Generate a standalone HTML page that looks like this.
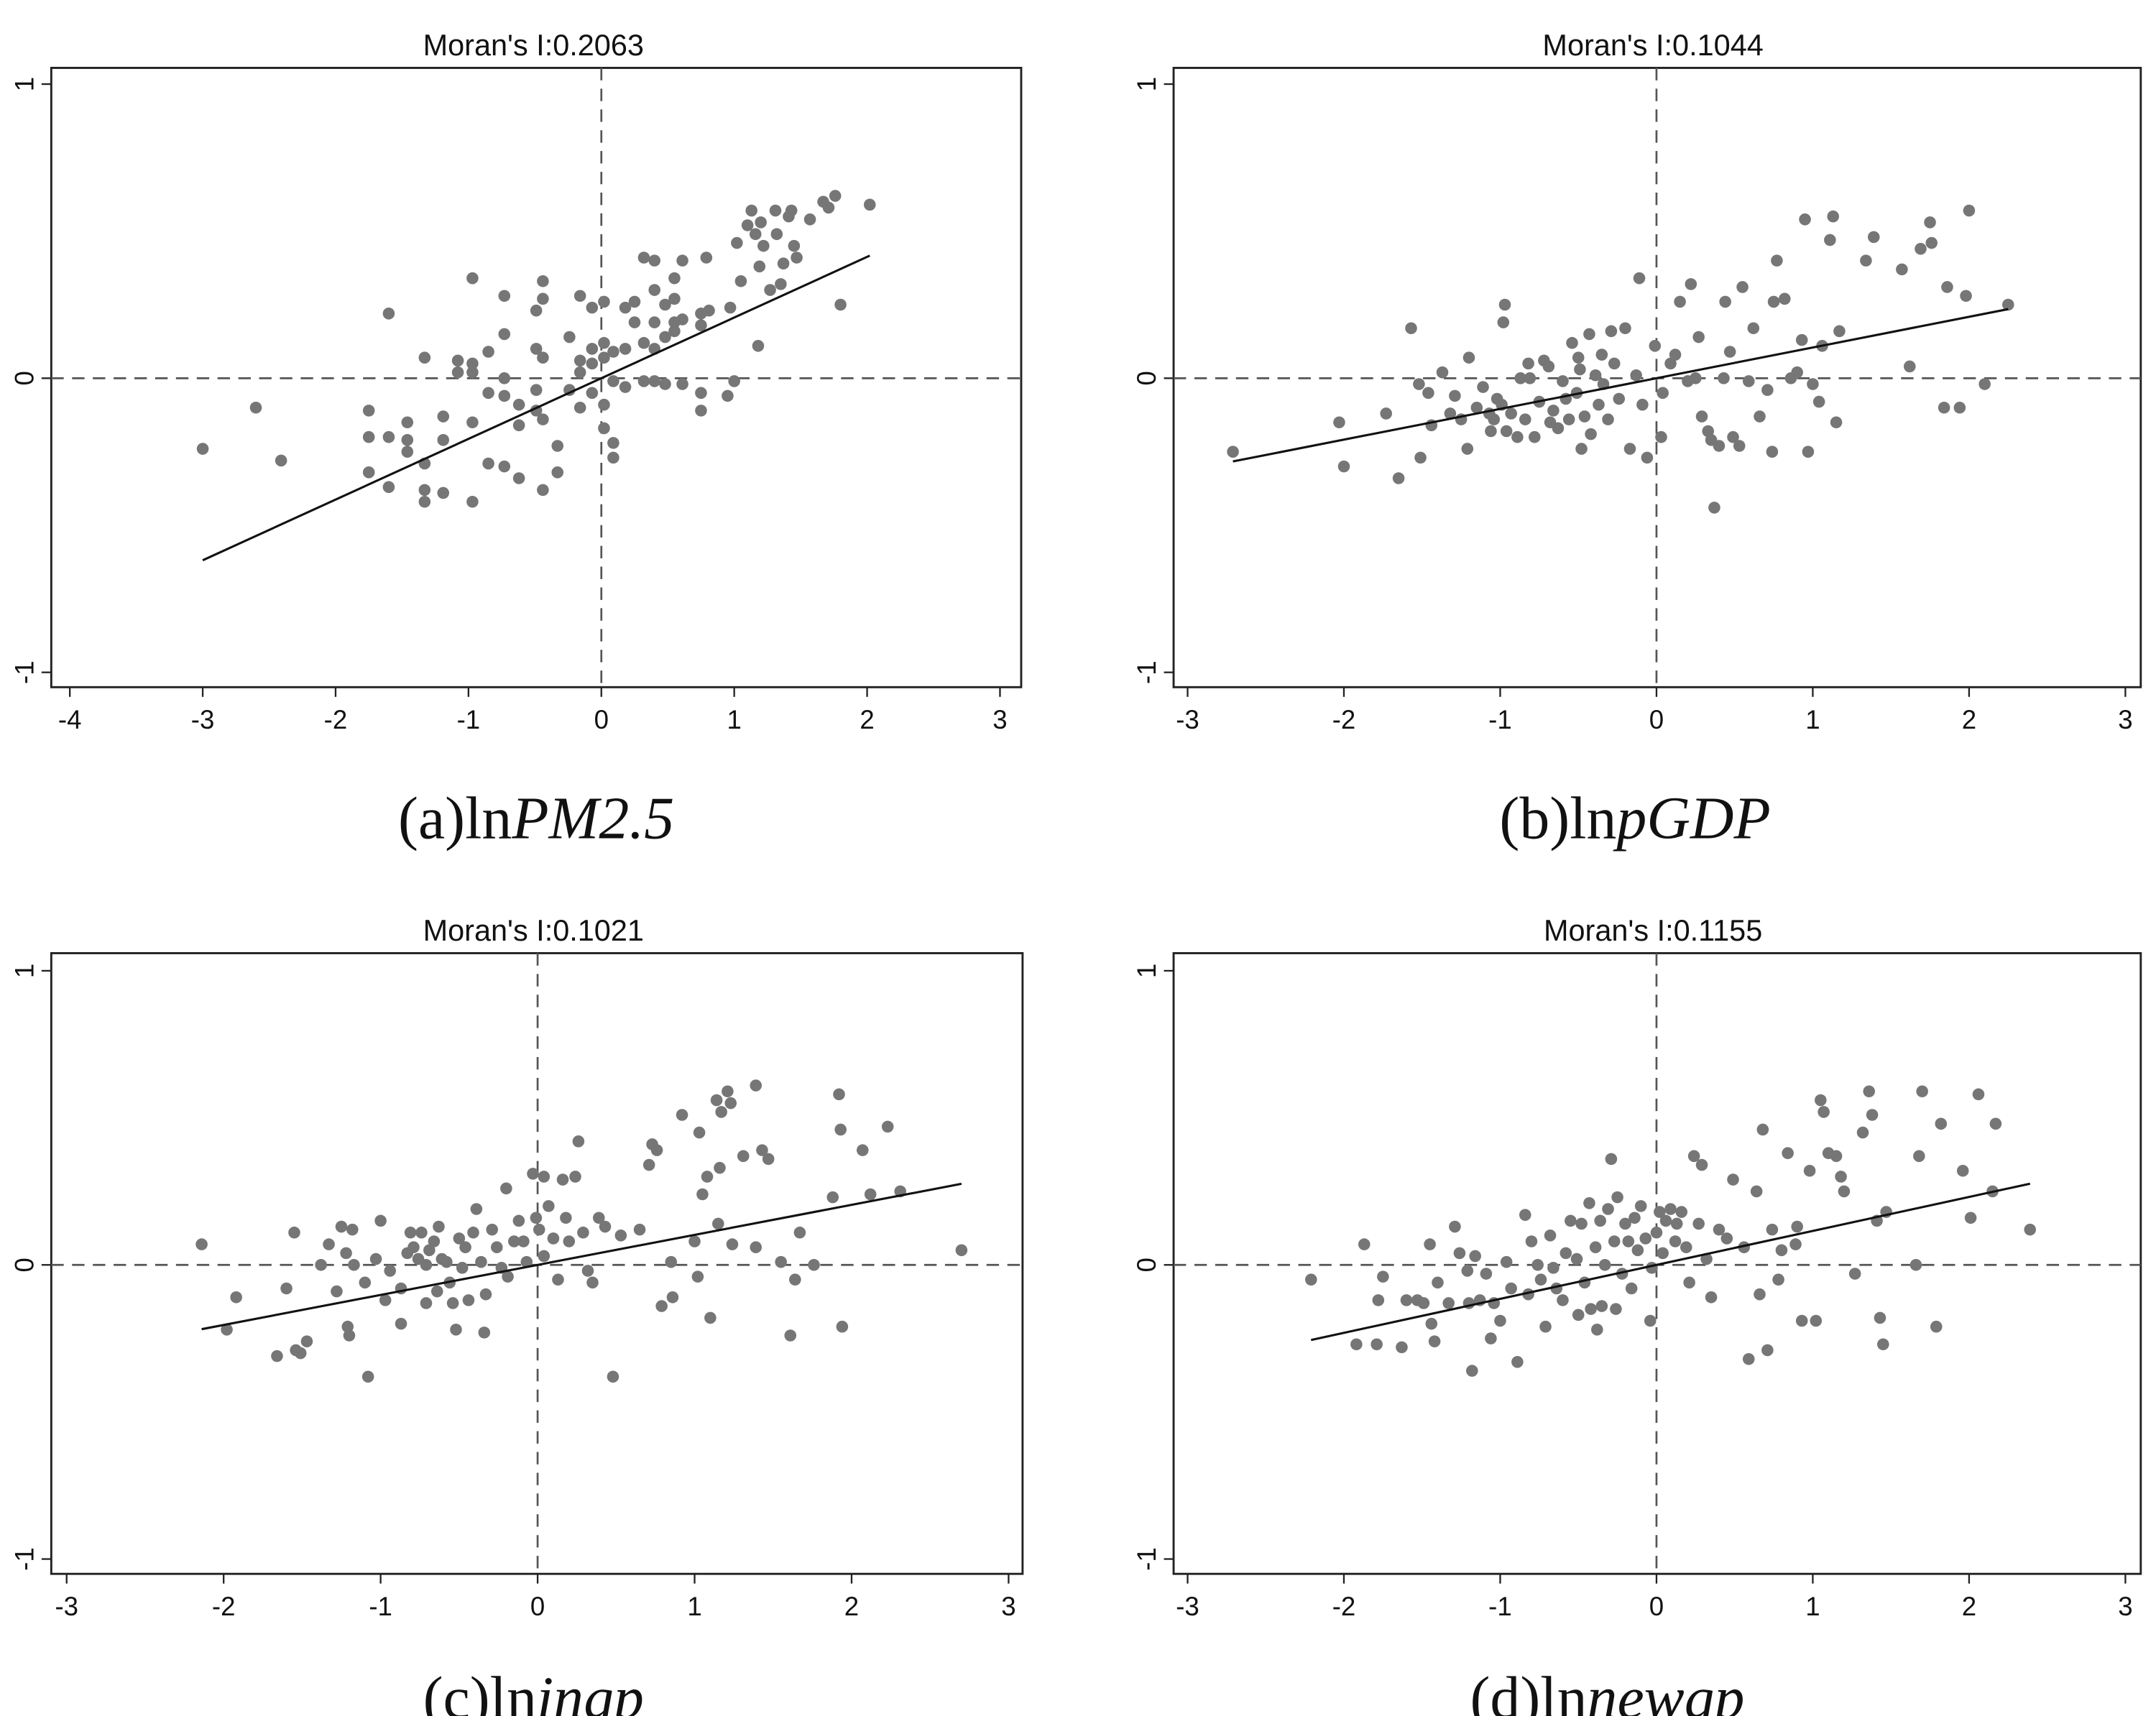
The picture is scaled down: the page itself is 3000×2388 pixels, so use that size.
<!DOCTYPE html>
<html><head><meta charset="utf-8"><style>
html,body{margin:0;padding:0;background:#fff}
svg{display:block}
</style></head><body>
<svg id="fig" width="3000" height="2388" viewBox="0 0 1556 1238.6" preserveAspectRatio="none" xmlns="http://www.w3.org/2000/svg"></svg>
<script>
// Panel data (x = standardized variable, y = spatial lag)
const aX=[-3.0,-2.6,-2.41,-1.6,-1.75,-1.75,-1.75,-1.6,-1.6,-1.46,-1.46,-1.46,-1.33,-1.33,-1.33,-1.33,-1.19,-1.19,-1.19,-1.08,-1.08,-0.97,-0.97,-0.97,-0.97,-0.97,-0.85,-0.85,-0.85,-0.73,-0.73,-0.73,-0.73,-0.73,-0.62,-0.62,-0.62,-0.49,-0.49,-0.49,-0.49,-0.44,-0.44,-0.44,-0.44,-0.44,-0.33,-0.33,-0.24,-0.24,-0.16,-0.16,-0.16,-0.16,-0.07,-0.07,-0.07,-0.07,0.02,0.02,0.02,0.02,0.02,0.09,0.09,0.09,0.09,0.18,0.18,0.18,0.25,0.25,0.32,0.32,0.32,0.4,0.4,0.4,0.4,0.4,0.48,0.48,0.48,0.55,0.55,0.55,0.55,0.61,0.61,0.61,0.75,0.75,0.75,0.75,0.81,0.79,0.97,1.0,0.95,1.02,1.05,1.10,1.13,1.16,1.18,1.19,1.2,1.22,1.27,1.31,1.32,1.35,1.37,1.41,1.43,1.45,1.47,1.57,1.67,1.71,1.76,1.80,2.02];
const aY=[-0.24,-0.10,-0.28,0.22,-0.11,-0.20,-0.32,-0.2,-0.37,-0.15,-0.25,-0.21,0.07,-0.29,-0.38,-0.42,-0.13,-0.21,-0.39,0.06,0.02,0.34,0.05,0.02,-0.15,-0.42,0.09,-0.05,-0.29,0.28,0.15,0.0,-0.06,-0.30,-0.09,-0.16,-0.34,0.23,0.10,-0.04,-0.11,0.33,0.27,0.07,-0.14,-0.38,-0.23,-0.32,0.14,-0.04,0.28,0.06,0.02,-0.10,0.24,0.10,0.05,-0.05,0.26,0.12,0.07,-0.09,-0.17,0.09,-0.01,-0.22,-0.27,0.24,0.10,-0.03,0.26,0.19,0.41,0.12,-0.01,0.40,0.30,0.19,0.10,-0.01,0.25,0.14,-0.02,0.34,0.27,0.19,0.16,0.40,0.20,-0.02,0.22,0.18,-0.05,-0.11,0.23,0.41,0.24,-0.01,-0.06,0.46,0.33,0.52,0.57,0.49,0.11,0.38,0.53,0.45,0.30,0.57,0.49,0.32,0.39,0.55,0.57,0.45,0.41,0.54,0.60,0.58,0.62,0.25,0.59];
const bX=[-2.71,-2.03,-2.0,-1.73,-1.65,-1.57,-1.52,-1.51,-1.46,-1.44,-1.37,-1.32,-1.29,-1.25,-1.21,-1.2,-1.15,-1.11,-1.07,-1.06,-1.04,-1.02,-0.99,-0.98,-0.97,-0.96,-0.93,-0.89,-0.87,-0.84,-0.82,-0.81,-0.78,-0.75,-0.72,-0.69,-0.68,-0.66,-0.63,-0.6,-0.58,-0.56,-0.54,-0.51,-0.5,-0.49,-0.48,-0.46,-0.43,-0.42,-0.39,-0.37,-0.35,-0.34,-0.31,-0.29,-0.27,-0.24,-0.2,-0.17,-0.13,-0.11,-0.09,-0.06,-0.01,0.03,0.04,0.09,0.12,0.15,0.2,0.22,0.25,0.27,0.29,0.33,0.35,0.37,0.40,0.43,0.44,0.47,0.49,0.53,0.55,0.59,0.62,0.66,0.71,0.74,0.75,0.77,0.82,0.86,0.9,0.93,0.95,0.97,1.0,1.04,1.06,1.11,1.13,1.15,1.17,1.34,1.39,1.57,1.62,1.69,1.75,1.76,1.84,1.86,1.94,1.98,2.0,2.1,2.25];
const bY=[-0.25,-0.15,-0.30,-0.12,-0.34,0.17,-0.02,-0.27,-0.05,-0.16,0.02,-0.12,-0.06,-0.14,-0.24,0.07,-0.10,-0.03,-0.12,-0.18,-0.14,-0.07,-0.09,0.19,0.25,-0.18,-0.12,-0.20,0.0,-0.14,0.05,0.0,-0.20,-0.08,0.06,0.04,-0.15,-0.11,-0.17,-0.01,-0.07,-0.14,0.12,-0.05,0.07,0.03,-0.24,-0.13,0.15,-0.19,0.01,-0.09,0.08,-0.02,-0.14,0.16,0.05,-0.07,0.17,-0.24,0.01,0.34,-0.09,-0.27,0.11,-0.20,-0.05,0.05,0.08,0.26,-0.01,0.32,0.0,0.14,-0.13,-0.18,-0.21,-0.44,-0.23,0.0,0.26,0.09,-0.20,-0.23,0.31,-0.01,0.17,-0.13,-0.04,-0.25,0.26,0.40,0.27,0.0,0.02,0.13,0.54,-0.25,-0.02,-0.08,0.11,0.47,0.55,-0.15,0.16,0.40,0.48,0.37,0.04,0.44,0.53,0.46,-0.10,0.31,-0.10,0.28,0.57,-0.02,0.25];
const cX=[-2.14,-1.98,-1.92,-1.66,-1.6,-1.55,-1.54,-1.51,-1.47,-1.38,-1.33,-1.28,-1.25,-1.22,-1.21,-1.2,-1.18,-1.17,-1.1,-1.08,-1.03,-1.0,-0.97,-0.94,-0.87,-0.87,-0.83,-0.81,-0.79,-0.76,-0.74,-0.71,-0.71,-0.69,-0.66,-0.64,-0.63,-0.61,-0.58,-0.56,-0.54,-0.52,-0.5,-0.48,-0.46,-0.44,-0.41,-0.39,-0.36,-0.34,-0.33,-0.29,-0.26,-0.23,-0.2,-0.19,-0.15,-0.12,-0.09,-0.07,-0.03,-0.01,0.01,0.04,0.04,0.07,0.1,0.13,0.16,0.18,0.2,0.24,0.26,0.29,0.32,0.35,0.39,0.43,0.48,0.53,0.65,0.71,0.73,0.76,0.79,0.85,0.86,0.92,1.0,1.02,1.03,1.05,1.08,1.10,1.14,1.15,1.16,1.17,1.21,1.23,1.24,1.31,1.39,1.39,1.43,1.47,1.55,1.61,1.64,1.67,1.76,1.88,1.92,1.93,1.94,2.07,2.12,2.23,2.31,2.70];
const cY=[0.07,-0.22,-0.11,-0.31,-0.08,0.11,-0.29,-0.30,-0.26,0.0,0.07,-0.09,0.13,0.04,-0.21,-0.24,0.12,0.0,-0.06,-0.38,0.02,0.15,-0.12,-0.02,-0.08,-0.20,0.04,0.11,0.06,0.02,0.11,-0.13,0.0,0.05,0.08,-0.09,0.13,0.02,0.01,-0.06,-0.13,-0.22,0.09,-0.01,0.06,-0.12,0.11,0.19,0.01,-0.23,-0.10,0.12,0.06,-0.01,0.26,-0.04,0.08,0.15,0.08,0.01,0.31,0.16,0.12,0.30,0.03,0.20,0.09,-0.05,0.29,0.16,0.08,0.30,0.42,0.11,-0.02,-0.06,0.16,0.13,-0.38,0.10,0.12,0.34,0.41,0.39,-0.14,0.01,-0.11,0.51,0.08,-0.04,0.45,0.24,0.30,-0.18,0.56,0.14,0.33,0.52,0.59,0.55,0.07,0.37,0.61,0.06,0.39,0.36,0.01,-0.24,-0.05,0.11,0.0,0.23,0.58,0.46,-0.21,0.39,0.24,0.47,0.25,0.05];
const dX=[-2.21,-1.92,-1.87,-1.79,-1.78,-1.75,-1.63,-1.60,-1.53,-1.49,-1.45,-1.44,-1.42,-1.40,-1.33,-1.29,-1.26,-1.21,-1.20,-1.18,-1.16,-1.13,-1.09,-1.06,-1.04,-1.0,-0.96,-0.93,-0.89,-0.84,-0.82,-0.80,-0.76,-0.74,-0.71,-0.68,-0.66,-0.64,-0.6,-0.58,-0.55,-0.51,-0.50,-0.48,-0.46,-0.43,-0.42,-0.39,-0.38,-0.36,-0.35,-0.33,-0.31,-0.29,-0.27,-0.26,-0.25,-0.22,-0.20,-0.18,-0.16,-0.14,-0.12,-0.10,-0.07,-0.04,-0.03,0.0,0.02,0.04,0.06,0.09,0.12,0.13,0.16,0.19,0.21,0.24,0.27,0.29,0.32,0.35,0.40,0.45,0.49,0.56,0.59,0.64,0.66,0.68,0.71,0.74,0.78,0.80,0.84,0.89,0.90,0.93,0.98,1.02,1.05,1.07,1.10,1.15,1.18,1.20,1.27,1.32,1.36,1.38,1.41,1.43,1.45,1.47,1.66,1.68,1.70,1.79,1.82,1.96,2.01,2.06,2.15,2.17,2.39];
const dY=[-0.05,-0.27,0.07,-0.27,-0.12,-0.04,-0.28,-0.12,-0.12,-0.13,0.07,-0.20,-0.26,-0.06,-0.13,0.13,0.04,-0.02,-0.13,-0.36,0.03,-0.12,-0.03,-0.25,-0.13,-0.19,0.01,-0.08,-0.33,0.17,-0.10,0.08,0.0,-0.05,-0.21,0.10,-0.01,-0.08,-0.12,0.04,0.15,0.02,-0.17,0.14,-0.06,0.21,-0.15,0.06,-0.22,0.15,-0.14,0.0,0.19,0.36,0.08,-0.15,0.23,-0.03,0.14,0.08,-0.08,0.16,0.05,0.20,0.09,-0.19,-0.01,0.11,0.18,0.04,0.15,0.19,0.08,0.14,0.18,0.06,-0.06,0.37,0.14,0.34,0.02,-0.11,0.12,0.09,0.29,0.06,-0.32,0.25,-0.10,0.46,-0.29,0.12,-0.05,0.05,0.38,0.07,0.13,-0.19,0.32,-0.19,0.56,0.52,0.38,0.37,0.30,0.25,-0.03,0.45,0.59,0.51,0.15,-0.18,-0.27,0.18,0.0,0.37,0.59,-0.21,0.48,0.32,0.16,0.58,0.25,0.48,0.12];
const titles=["Moran's I:0.2063","Moran's I:0.1044","Moran's I:0.1021","Moran's I:0.1155"];
const slopes=[0.2063,0.1044,0.1021,0.1155];
const xTicksA=[-4,-3,-2,-1,0,1,2,3];
const xTicksB=[-3,-2,-1,0,1,2,3];
const yTicks=[-1,0,1];

const NS="http://www.w3.org/2000/svg";
const svg=document.getElementById('fig');
function mk(tag,attrs,parent){const e=document.createElementNS(NS,tag);for(const k in attrs)e.setAttribute(k,attrs[k]);(parent||svg).appendChild(e);return e;}

const panels=[
 {key:'a',xs:aX,ys:aY,ticks:xTicksA,x0:434,ux:95.9,bx0:37,bx1:737,y0:273,by0:49,by1:496,tc:385,cap:'(a)ln',capI:'PM2.5',cc:387,cy:605},
 {key:'b',xs:bX,ys:bY,ticks:xTicksB,x0:1195.5,ux:112.8,bx0:847,bx1:1545,y0:273,by0:49,by1:496,tc:1193,cap:'(b)ln',capI:'pGDP',cc:1180,cy:605},
 {key:'c',xs:cX,ys:cY,ticks:xTicksB,x0:388,ux:113.3,bx0:37,bx1:738,y0:913,by0:688,by1:1136,tc:385,cap:'(c)ln',capI:'ingp',cc:385,cy:1240},
 {key:'d',xs:dX,ys:dY,ticks:xTicksB,x0:1195.5,ux:112.8,bx0:847,bx1:1545,y0:913,by0:688,by1:1136,tc:1193,cap:'(d)ln',capI:'newgp',cc:1160,cy:1240}
];
const uy=212.3;
panels.forEach((p,i)=>{
  const g=mk('g',{});
  
  
  const sx=v=>p.x0+v*p.ux, sy=v=>p.y0-v*uy;
  const t=mk('text',{x:p.tc,y:p.by0-9,'text-anchor':'middle','font-family':'Liberation Sans, sans-serif','font-size':21.5,fill:'#111'},g);
  t.textContent=titles[i];
  
  
  const box=mk('rect',{x:p.bx0,y:p.by0,width:p.bx1-p.bx0,height:p.by1-p.by0,fill:'none',stroke:'#222','stroke-width':1.5},g);
  
  
  p.ticks.forEach(v=>{
    const tk=mk('line',{x1:sx(v),x2:sx(v),y1:p.by1,y2:p.by1+7,stroke:'#222','stroke-width':1.2},g);
    
    
    const tl=mk('text',{x:sx(v),y:p.by1+30,'text-anchor':'middle','font-family':'Liberation Sans, sans-serif','font-size':19,fill:'#111'},g);
    tl.textContent=String(v);
    
    
  });
  yTicks.forEach(v=>{
    const tk=mk('line',{x1:p.bx0-7,x2:p.bx0,y1:sy(v),y2:sy(v),stroke:'#222','stroke-width':1.2},g);
    
    
    const tx=p.bx0-13, ty=sy(v);
    const tl=mk('text',{x:tx,y:ty,'text-anchor':'middle','font-family':'Liberation Sans, sans-serif','font-size':19,fill:'#111',transform:`rotate(-90 ${tx} ${ty})`},g);
    tl.textContent=String(v);
    
    
  });
  const hz=mk('line',{x1:p.bx0,x2:p.bx1,y1:sy(0),y2:sy(0),stroke:'#555','stroke-width':1.4,'stroke-dasharray':'9 6'},g);
  
  
  const vt=mk('line',{x1:sx(0),x2:sx(0),y1:p.by0,y2:p.by1,stroke:'#555','stroke-width':1.4,'stroke-dasharray':'9 6'},g);
  
  
  p.xs.forEach((xv,j)=>{
    const c=mk('circle',{cx:sx(xv),cy:sy(p.ys[j]),r:4.3,fill:'#767676'},g);
    
    
  });
  const mn=Math.min(...p.xs), mx=Math.max(...p.xs);
  const fl=mk('line',{x1:sx(mn),y1:sy(slopes[i]*mn),x2:sx(mx),y2:sy(slopes[i]*mx),stroke:'#111','stroke-width':1.6},g);
  
  
  const cap=mk('text',{x:p.cc,y:p.cy,'text-anchor':'middle','font-family':'Liberation Serif, serif','font-size':43.5,fill:'#111'},g);
  
  
  cap.appendChild(document.createTextNode(p.cap));
  const it=mk('tspan',{'font-style':'italic'},cap);
  it.textContent=p.capI;
});
</script>
</body></html>
